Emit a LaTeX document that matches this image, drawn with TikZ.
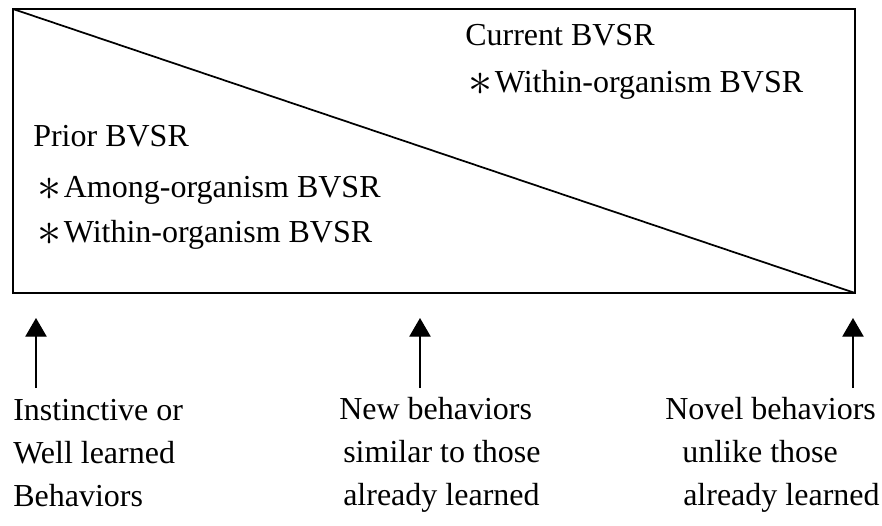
\documentclass[tikz,border=0pt]{standalone}
\usepackage{fontspec}
\setmainfont{Liberation Serif}
\usetikzlibrary{arrows.meta}
\newcommand{\starmark}{\smash{\raisebox{-0.1em}{\scalebox{1.45}{$\ast$}}}\kern0.08em}

\begin{document}
\begin{tikzpicture}[x=0.75pt,y=-0.75pt,
    lbl/.style={anchor=base west,inner sep=0pt,font=\fontsize{24}{28}\selectfont},
    uparrow/.style={-{Triangle[width=16pt,length=14pt]},line width=1pt}]
    \useasboundingbox (0,0) rectangle (882,525);

    % Box with diagonal
    \coordinate (tl) at (13,9);
    \coordinate (br) at (855,293);
    \draw[line width=1.3pt] (tl) rectangle (br);
    \draw[line width=1.3pt] (tl) -- (br);

    % Current BVSR
    \node[lbl] (cur) at (465,45) {Current BVSR};
    \node[lbl] (curwithin) at (468,92) {\starmark Within-organism BVSR};

    % Prior BVSR
    \node[lbl] (prior) at (33,146) {Prior BVSR};
    \node[lbl] (priorbetween) at (37,197) {\starmark Among-organism BVSR};
    \node[lbl] (priorwithin) at (37,242) {\starmark Within-organism BVSR};

    % Arrows
    \coordinate (foot1) at (36,388);
    \coordinate (tip1) at (36,318);
    \draw[uparrow] (foot1) -- (tip1);
    \coordinate (foot2) at (420,388);
    \coordinate (tip2) at (420,318);
    \draw[uparrow] (foot2) -- (tip2);
    \coordinate (foot3) at (853,388);
    \coordinate (tip3) at (853,318);
    \draw[uparrow] (foot3) -- (tip3);

    % Instinctive behaviors
    \node[lbl] (inst1) at (13,420) {Instinctive or};
    \node[lbl] (inst2) at (13,463) {Well learned};
    \node[lbl] (inst3) at (13,506) {Behaviors};

    % New behaviors
    \node[lbl] (new1) at (339,419) {New behaviors};
    \node[lbl] (new2) at (343,462) {similar to those};
    \node[lbl] (new3) at (343,505) {already learned};

    % Novel behaviors
    \node[lbl] (novel1) at (665,419) {Novel behaviors};
    \node[lbl] (novel2) at (682,462) {unlike those};
    \node[lbl] (novel3) at (683,505) {already learned};
\end{tikzpicture}
\end{document}
